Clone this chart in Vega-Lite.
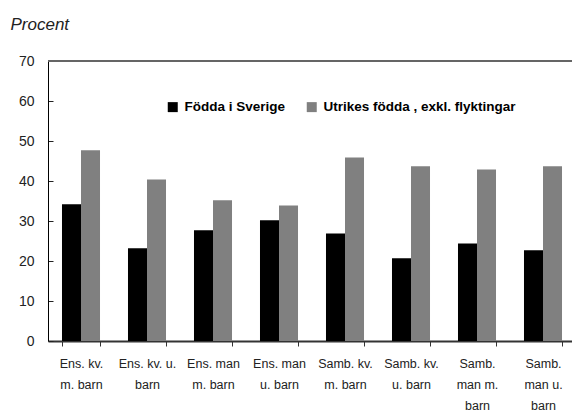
{
  "$schema": "https://vega.github.io/schema/vega-lite/v6.json",
  "autosize": {"type": "none"},
  "width": 528,
  "height": 280,
  "padding": {"left": 48, "top": 61, "right": -4, "bottom": 74},
  "background": "white",
  "config": {
    "view": {"stroke": null},
    "font": "Liberation Sans",
    "axisY": {
      "titleAngle": 0,
      "titleAlign": "left",
      "titleBaseline": "alphabetic",
      "titleX": -38,
      "titleY": -32,
      "titleFont": "Liberation Sans",
      "titleFontStyle": "italic",
      "titleFontWeight": "normal",
      "titleFontSize": 17,
      "titleColor": "#222",
      "labelOverlap": false,
      "labelFontSize": 14,
      "labelColor": "#222",
      "labelPadding": 19,
      "tickSize": -5,
      "tickColor": "#222",
      "domainColor": "#000",
      "grid": false
    }
  },
  "data": {
    "values": [
      {"kat": "Ens. kv.|m. barn", "grupp": "Födda i Sverige", "v": 34.2},
      {"kat": "Ens. kv.|m. barn", "grupp": "Utrikes födda , exkl. flyktingar", "v": 47.7},
      {"kat": "Ens. kv. u.|barn", "grupp": "Födda i Sverige", "v": 23.2},
      {"kat": "Ens. kv. u.|barn", "grupp": "Utrikes födda , exkl. flyktingar", "v": 40.4},
      {"kat": "Ens. man|m. barn", "grupp": "Födda i Sverige", "v": 27.7},
      {"kat": "Ens. man|m. barn", "grupp": "Utrikes födda , exkl. flyktingar", "v": 35.2},
      {"kat": "Ens. man|u. barn", "grupp": "Födda i Sverige", "v": 30.2},
      {"kat": "Ens. man|u. barn", "grupp": "Utrikes födda , exkl. flyktingar", "v": 33.9},
      {"kat": "Samb. kv.|m. barn", "grupp": "Födda i Sverige", "v": 26.9},
      {"kat": "Samb. kv.|m. barn", "grupp": "Utrikes födda , exkl. flyktingar", "v": 45.9},
      {"kat": "Samb. kv.|u. barn", "grupp": "Födda i Sverige", "v": 20.7},
      {"kat": "Samb. kv.|u. barn", "grupp": "Utrikes födda , exkl. flyktingar", "v": 43.7},
      {"kat": "Samb.|man m.|barn", "grupp": "Födda i Sverige", "v": 24.4},
      {"kat": "Samb.|man m.|barn", "grupp": "Utrikes födda , exkl. flyktingar", "v": 42.9},
      {"kat": "Samb.|man u.|barn", "grupp": "Födda i Sverige", "v": 22.7},
      {"kat": "Samb.|man u.|barn", "grupp": "Utrikes födda , exkl. flyktingar", "v": 43.7}
    ]
  },
  "layer": [
    {
      "mark": {"type": "bar"},
      "encoding": {
        "x": {
          "field": "kat", "type": "nominal", "sort": null,
          "scale": {"paddingInner": 0.424, "paddingOuter": 0.212},
          "axis": {
            "title": null,
            "labelAngle": 0,
            "labelExpr": "split(datum.label, '|')",
            "labelFontSize": 12.5,
            "labelLineHeight": 21,
            "labelColor": "#222",
            "labelPadding": 11,
            "labelBaseline": "top",
            "labelOverlap": false,
            "labelLimit": 100,
            "tickBand": "extent",
            "tickSize": 5,
            "tickColor": "#333",
            "domainColor": "#333",
            "domainWidth": 2,
            "grid": false
          }
        },
        "xOffset": {"field": "grupp", "type": "nominal", "scale": {"paddingInner": 0, "paddingOuter": 0}},
        "y": {
          "field": "v", "type": "quantitative",
          "scale": {"domain": [0, 70], "nice": false},
          "axis": {"title": "Procent", "values": [0, 10, 20, 30, 40, 50, 60, 70]}
        },
        "color": {
          "field": "grupp", "type": "nominal",
          "scale": {"domain": ["Födda i Sverige", "Utrikes födda , exkl. flyktingar"], "range": ["#000000", "#808080"]},
          "legend": {
            "title": null,
            "orient": "none",
            "direction": "horizontal",
            "legendX": 118,
            "legendY": 39,
            "symbolType": "square",
            "symbolSize": 100,
            "symbolStrokeWidth": 0,
            "symbolOpacity": 1,
            "labelFontSize": 13.5,
            "labelFontWeight": "bold",
            "labelColor": "#000",
            "labelOffset": 5,
            "labelLimit": 300,
            "columnPadding": 19
          }
        }
      }
    },
    {
      "mark": {"type": "rule", "color": "#666", "strokeWidth": 1.5},
      "encoding": {"y": {"datum": 70, "axis": {"title": "Procent", "values": [0, 10, 20, 30, 40, 50, 60, 70]}}}
    }
  ]
}
